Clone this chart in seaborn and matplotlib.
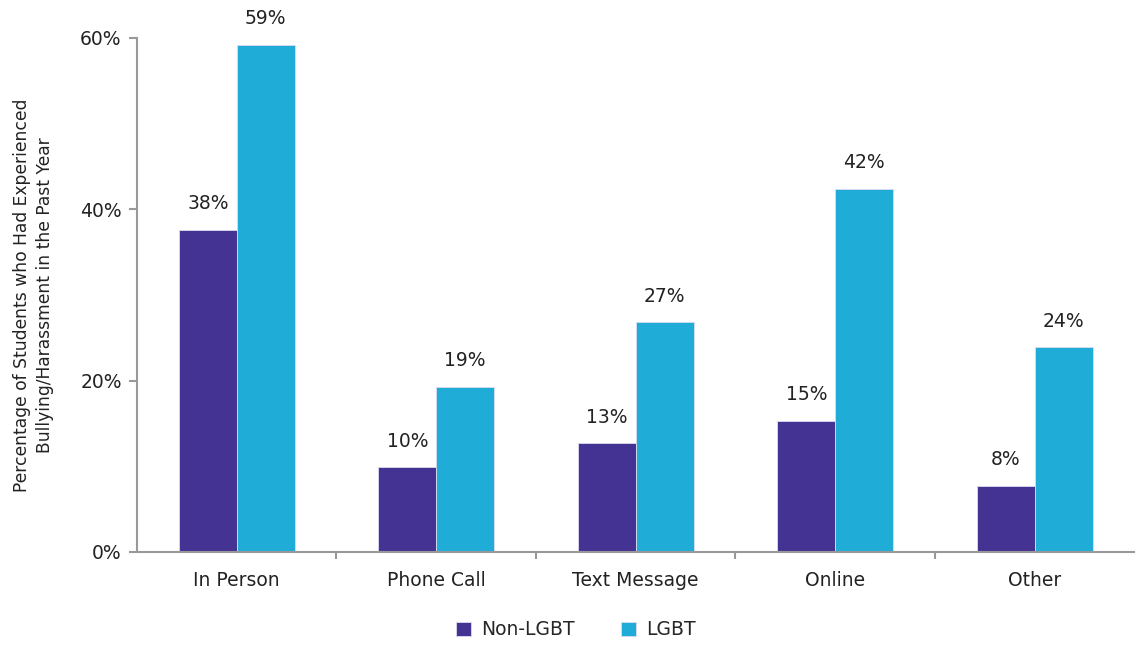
import pandas as pd
import matplotlib.pyplot as plt
import seaborn as sns
from matplotlib.ticker import FixedLocator, PercentFormatter

# values (bar heights, in %)
categories = ['In Person', 'Phone Call', 'Text Message', 'Online', 'Other']
groups = ['Non-LGBT', 'LGBT']
non_lgbt = [37.6, 9.9, 12.7, 15.3, 7.7]
lgbt = [59.2, 19.3, 26.8, 42.4, 23.9]
colors = ['#443393', '#1fadd8']

df = pd.DataFrame({
    'category': categories * 2,
    'group': [groups[0]] * 5 + [groups[1]] * 5,
    'value': non_lgbt + lgbt,
})

sns.set_style('white')
plt.rcParams['font.family'] = ['DejaVu Sans']

fig = plt.figure(figsize=(11.36, 6.45), dpi=100)
ax = fig.add_axes([0.1206, 0.1442, 0.878, 0.797])

sns.barplot(data=df, x='category', y='value', hue='group', order=categories,
            hue_order=groups, palette=colors, width=0.58, saturation=1,
            edgecolor='#dcdcf0', linewidth=0.6, ax=ax)

# value labels
for cont in ax.containers:
    ax.bar_label(cont, labels=[f'{round(v.get_height())}%' for v in cont],
                 padding=12, fontsize=13.5, color='#222222')

ax.set_ylim(0, 60)
ax.set_xlim(-0.5, 4.5)
ax.set_yticks([0, 20, 40, 60])
ax.yaxis.set_major_formatter(PercentFormatter(decimals=0))
ax.xaxis.set_minor_locator(FixedLocator([0.5, 1.5, 2.5, 3.5]))
ax.tick_params(axis='x', which='major', length=0, pad=14, labelsize=13.5)
ax.tick_params(axis='x', which='minor', length=5, color='#999999', width=1.5, bottom=True)
ax.tick_params(axis='y', length=6, color='#999999', width=1.5, left=True, pad=5, labelsize=13.5)
for lbl in ax.get_xticklabels() + ax.get_yticklabels():
    lbl.set_color('#222222')

for s in ['top', 'right']:
    ax.spines[s].set_visible(False)
for s in ['left', 'bottom']:
    ax.spines[s].set_color('#999999')
    ax.spines[s].set_linewidth(1.5)

ax.set_xlabel('')
ax.set_ylabel('Percentage of Students who Had Experienced\nBullying/Harassment in the Past Year',
              fontsize=12.3, color='#222222', linespacing=1.35)
ax.yaxis.set_label_coords(-0.083, 0.5)

ax.legend(loc='upper center', bbox_to_anchor=(0.44, -0.1), ncol=2, frameon=False,
          fontsize=13.5, handlelength=0.8, handleheight=0.8, columnspacing=2.5,
          handletextpad=0.5)

fig.savefig('out.png', dpi=100)
